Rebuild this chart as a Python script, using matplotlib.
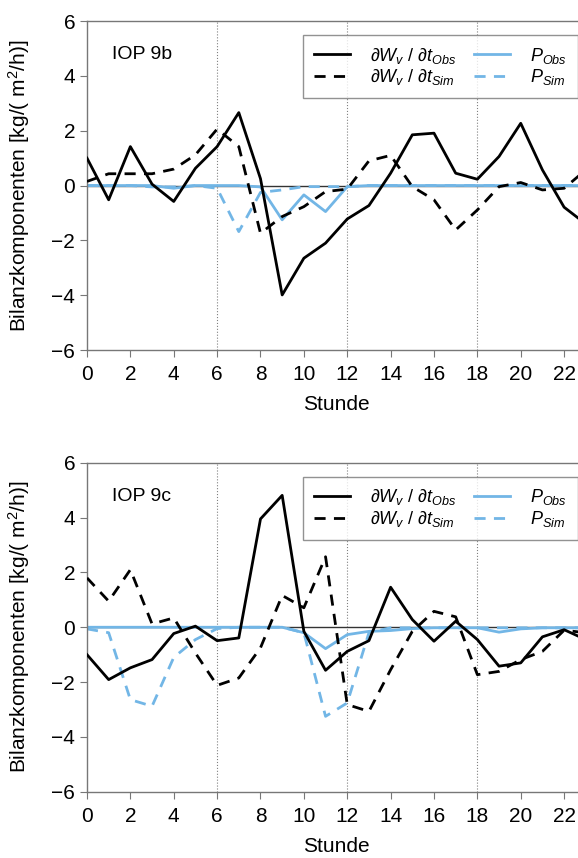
import matplotlib
matplotlib.use('Agg')
import matplotlib.pyplot as plt
import numpy as np

plt.rcParams['font.family'] = ['Liberation Sans', 'DejaVu Sans']
plt.rcParams['mathtext.fontset'] = 'custom'
plt.rcParams['mathtext.rm'] = 'Liberation Sans'
plt.rcParams['mathtext.it'] = 'Liberation Sans:italic'
plt.rcParams['mathtext.sf'] = 'Liberation Sans'

stunde = np.arange(0, 24)

# IOP 9b
obs_9b = [1.0, -0.52, 1.42, 0.05, -0.58, 0.63, 1.42, 2.66, 0.25, -3.99, -2.65, -2.1,
          -1.22, -0.73, 0.45, 1.85, 1.91, 0.45, 0.23, 1.06, 2.27, 0.57, -0.79, -1.4]
sim_9b = [0.15, 0.43, 0.43, 0.43, 0.6, 1.12, 2.06, 1.42, -1.74, -1.13, -0.77, -0.22,
          -0.13, 0.9, 1.1, -0.04, -0.52, -1.62, -0.89, -0.04, 0.11, -0.16, -0.1, 0.57]
pobs_9b = [0.0, 0.0, 0.0, 0.0, -0.1, 0.0, 0.0, 0.0, -0.05, -1.25, -0.34, -0.95,
           -0.04, 0.0, 0.0, 0.0, 0.0, 0.0, 0.0, 0.0, 0.0, 0.0, 0.0, 0.0]
psim_9b = [0.0, 0.0, 0.0, -0.05, -0.05, 0.0, -0.1, -1.68, -0.25, -0.16, -0.04, -0.04,
           -0.04, 0.0, 0.0, 0.0, 0.0, 0.0, 0.0, 0.0, 0.0, 0.0, 0.0, 0.0]

# IOP 9c
obs_9c = [-1.0, -1.91, -1.48, -1.18, -0.23, 0.04, -0.49, -0.39, 3.95, 4.81, -0.15, -1.57,
          -0.88, -0.49, 1.46, 0.28, -0.51, 0.22, -0.45, -1.42, -1.3, -0.35, -0.09, -0.45]
sim_9c = [1.8, 0.95, 2.1, 0.12, 0.34, -0.94, -2.12, -1.85, -0.75, 1.16, 0.71, 2.57,
          -2.82, -3.07, -1.55, -0.15, 0.58, 0.38, -1.73, -1.61, -1.18, -0.88, -0.11, -0.2]
pobs_9c = [0.0, 0.0, 0.0, 0.0, 0.0, 0.0, 0.0, 0.0, 0.0, 0.0, -0.2, -0.78,
           -0.27, -0.15, -0.12, -0.05, -0.02, -0.02, -0.02, -0.18, -0.06, -0.02, -0.02, -0.02]
psim_9c = [-0.06, -0.2, -2.64, -2.88, -1.1, -0.45, -0.05, 0.0, 0.0, 0.0, -0.2, -3.25,
           -2.76, -0.2, -0.02, -0.02, -0.02, -0.02, -0.02, -0.02, -0.02, -0.02, -0.02, -0.02]

panels = [('IOP 9b', obs_9b, sim_9b, pobs_9b, psim_9b, [0.1505, 0.592, 0.863, 0.3835]),
          ('IOP 9c', obs_9c, sim_9c, pobs_9c, psim_9c, [0.1505, 0.0772, 0.863, 0.3835])]

blue = '#72b6e6'
spine_col = '#777777'

fig = plt.figure(figsize=(5.78, 8.58), dpi=100)

for name, obs, sim, pobs, psim, pos in panels:
    ax = fig.add_axes(pos)
    for v in [6, 12, 18]:
        ax.axvline(v, color='gray', linestyle=':', linewidth=0.8, zorder=1)
    ax.axhline(0, color='#333333', linewidth=1.0, zorder=1)
    ax.plot(stunde, obs, color='black', linestyle='-', linewidth=2.0,
            label=r'$\partial W_v\ /\ \partial t_{Obs}$', zorder=3)
    ax.plot(stunde, sim, color='black', linestyle=(0, (4, 3)), linewidth=2.0,
            label=r'$\partial W_v\ /\ \partial t_{Sim}$', zorder=3)
    ax.plot(stunde, pobs, color=blue, linestyle='-', linewidth=2.0,
            label=r'$P_{Obs}$', zorder=2)
    ax.plot(stunde, psim, color=blue, linestyle=(0, (4, 3)), linewidth=2.0,
            label=r'$P_{Sim}$', zorder=2)

    ax.set_xlim(0, 23)
    ax.set_ylim(-6, 6)
    ax.set_xticks(range(0, 23, 2))
    ax.set_yticks(range(-6, 7, 2))
    ax.set_yticklabels(['\u22126', '\u22124', '\u22122', '0', '2', '4', '6'])
    ax.tick_params(axis='both', direction='out', length=5, labelsize=15, color=spine_col)
    ax.tick_params(axis='x', pad=6)
    for s in ax.spines.values():
        s.set_color(spine_col)
        s.set_linewidth(1.0)

    ax.text(0.05, 0.897, name, transform=ax.transAxes, fontsize=14, va='center', ha='left')
    ax.set_xlabel('Stunde', fontsize=15, labelpad=8)
    ax.set_ylabel(r'Bilanzkomponenten [kg/( m$^2$/h)]', fontsize=15, labelpad=14)

    leg = ax.legend(loc='upper left', bbox_to_anchor=(0.433, 0.958), ncol=2, fontsize=13,
                    frameon=True, fancybox=False, handlelength=2.0, columnspacing=1.0,
                    labelspacing=0.1, borderpad=0.6, handletextpad=1.1, borderaxespad=0)
    leg.get_frame().set_edgecolor(spine_col)
    leg.get_frame().set_linewidth(1.0)

plt.savefig('out.png', dpi=100)
